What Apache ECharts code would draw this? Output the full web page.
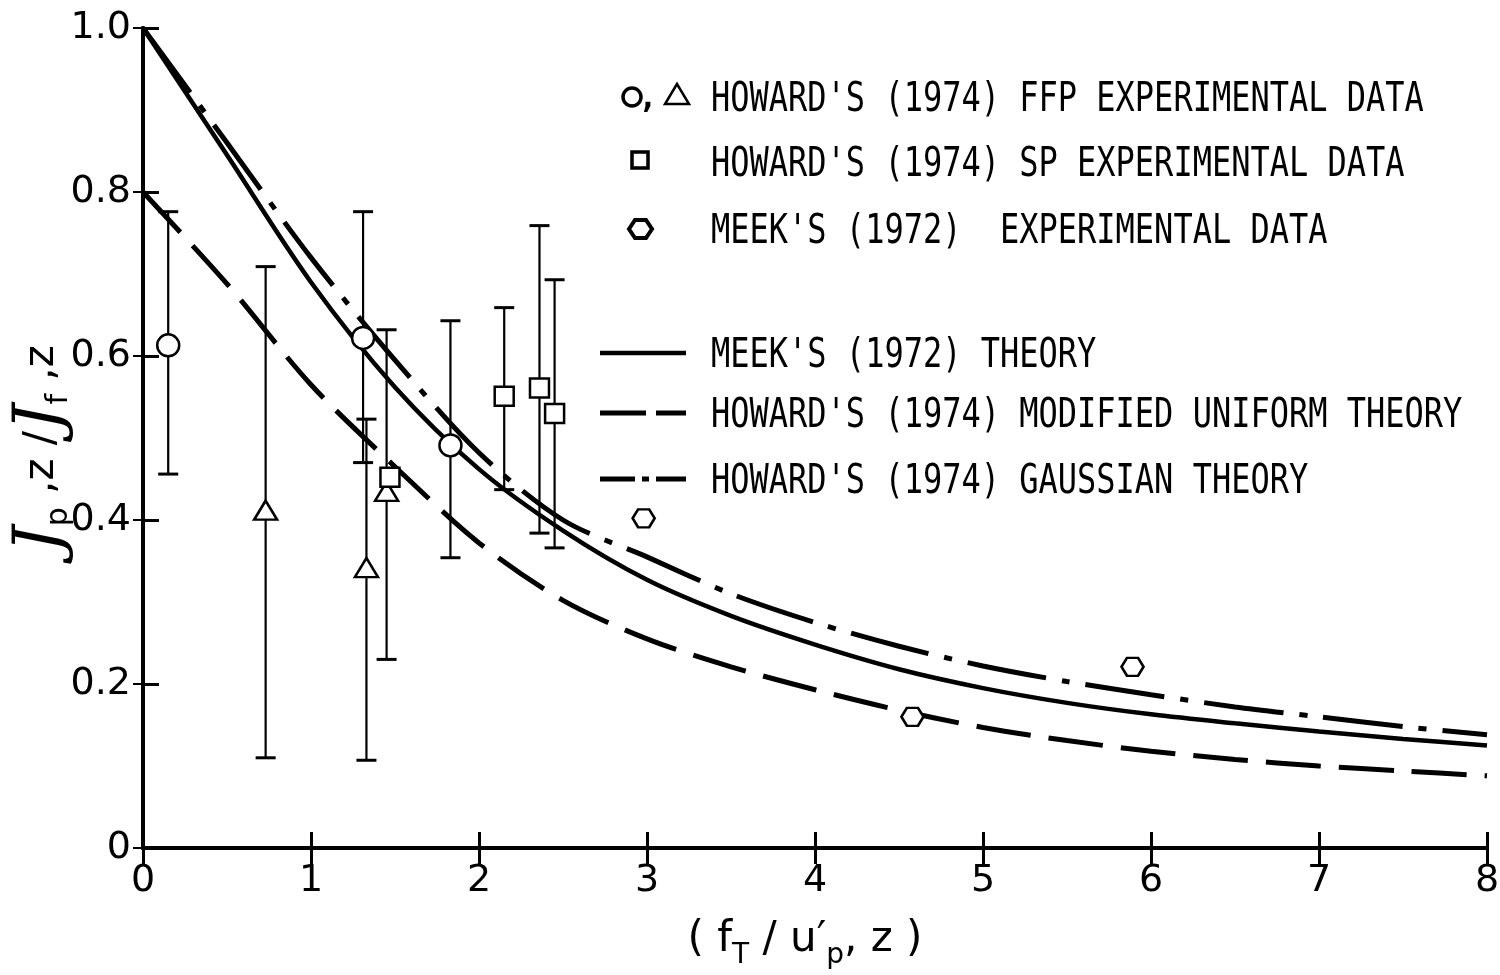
<!DOCTYPE html>
<html><head><meta charset="utf-8">
<script src="https://cdn.jsdelivr.net/npm/echarts@6/dist/echarts.min.js"></script>
<style>html,body{margin:0;padding:0;background:#fff}#c{width:1500px;height:975px}</style>
</head><body><div id="c"></div><script>
// ---- data ----
const xTickLabels = ['0','1','2','3','4','5','6','7','8'];
const yTickLabels = ['0','0.2','0.4','0.6','0.8','1.0'];

const theoryX = [0,0.5,1,1.5,2,2.5,3,3.5,4,4.5,5,5.5,6,6.5,7,7.5,8];
const meekTheoryY = [1.0,0.845,0.69,0.562,0.462,0.387,0.327,0.283,0.248,0.218,0.195,0.177,0.163,0.152,0.142,0.133,0.125];
const uniformTheoryY = [0.80,0.688,0.565,0.465,0.372,0.302,0.255,0.221,0.193,0.168,0.147,0.131,0.118,0.108,0.10,0.094,0.088];
const gaussianTheoryY = [1.0,0.86,0.72,0.595,0.482,0.40,0.355,0.31,0.275,0.246,0.222,0.203,0.187,0.172,0.16,0.148,0.138];

const ffpCircleX = [0.15,1.31,1.83];
const ffpCircleY = [0.613,0.622,0.491];
const ffpCircleLo = [0.456,0.470,0.354];
const ffpCircleHi = [0.776,0.776,0.643];

const ffpTriX = [0.73,1.33,1.45];
const ffpTriY = [0.412,0.342,0.435];
const ffpTriLo = [0.110,0.107,0.230];
const ffpTriHi = [0.709,0.523,0.632];

const spSquareX = [1.47,2.15,2.36,2.45];
const spSquareY = [0.452,0.551,0.561,0.530];
const spSquareLo = [null,0.437,0.384,0.366];
const spSquareHi = [null,0.659,0.759,0.693];

const meekDataX = [2.98,4.58,5.89];
const meekDataY = [0.402,0.160,0.221];

const legendLabels = [
  "HOWARD'S (1974) FFP EXPERIMENTAL DATA",
  "HOWARD'S (1974) SP EXPERIMENTAL DATA",
  "MEEK'S (1972)  EXPERIMENTAL DATA",
  "MEEK'S (1972) THEORY",
  "HOWARD'S (1974) MODIFIED UNIFORM THEORY",
  "HOWARD'S (1974) GAUSSIAN THEORY"
];

// ---- helpers ----
const zip = (xs, ys) => xs.map((x,i)=>[x, ys[i]]);
const errData = (xs, lo, hi) => xs.map((x,i)=>[x, lo[i], hi[i]]).filter(d=>d[1]!=null);

function renderErr(params, api){
  const x = api.value(0), lo = api.value(1), hi = api.value(2);
  const a = api.coord([x, lo]), b = api.coord([x, hi]);
  const w = 10;
  return {type:'group', children:[
    {type:'line', shape:{x1:a[0],y1:a[1],x2:b[0],y2:b[1]}, style:{stroke:'#000',lineWidth:2.2}},
    {type:'line', shape:{x1:a[0]-w,y1:a[1],x2:a[0]+w,y2:a[1]}, style:{stroke:'#000',lineWidth:3}},
    {type:'line', shape:{x1:b[0]-w,y1:b[1],x2:b[0]+w,y2:b[1]}, style:{stroke:'#000',lineWidth:3}}
  ]};
}

const hexPath = 'path://M-10,0 L-5,-8 L5,-8 L10,0 L5,8 L-5,8 Z';
const markerStyle = {color:'#fff', borderColor:'#000', borderWidth:2.5, opacity:1};
const monoFont = 'DejaVu Sans Mono';
const legendText = {fontFamily: monoFont, fontSize: 32, fill:'#000'};

const solidStyle = {color:'#000', width:4.5, type:'solid'};
const dashStyle = {color:'#000', width:5, type:[55,18]};
const dashDotStyle = {color:'#000', width:5, type:[80,16,8,16]};

const chart = echarts.init(document.getElementById('c'), null, {renderer:'canvas'});

const axisCommon = {
  type:'value',
  axisLine:{show:true, lineStyle:{color:'#000', width:4}},
  axisTick:{show:true, inside:true, length:16, lineStyle:{color:'#000', width:3}},
  splitLine:{show:false}
};

function legendTextEl(i, y){
  return {type:'text', x:711, y:y+3, scaleY:1.28, originY:0,
    style:Object.assign({text:legendLabels[i], verticalAlign:'middle'}, legendText)};
}

chart.setOption({
  animation:false,
  backgroundColor:'#fff',
  grid:{left:143, right:13, top:28, bottom:127, outerBoundsMode:'none'},
  xAxis:[
    Object.assign({}, axisCommon, {min:0, max:8, interval:1, position:'bottom',
      axisLabel:{show:true, margin:14, fontFamily:'DejaVu Sans', fontSize:38, color:'#000',
        formatter:(v)=>xTickLabels[Math.round(v)]}}),
    Object.assign({}, axisCommon, {min:0, max:8, interval:1, position:'top',
      axisLabel:{show:false}})
  ],
  yAxis:[
    Object.assign({}, axisCommon, {min:0, max:1, interval:0.2, position:'left',
      axisLabel:{show:true, margin:12, fontFamily:'DejaVu Sans', fontSize:38, color:'#000',
        formatter:(v)=>yTickLabels[Math.round(v*5)]}}),
    Object.assign({}, axisCommon, {min:0, max:1, interval:0.2, position:'right',
      axisTick:{show:true, inside:true, length:10, lineStyle:{color:'#000', width:2}},
      axisLabel:{show:false}})
  ],
  series:[
    {name:legendLabels[3], type:'line', data:zip(theoryX, meekTheoryY), smooth:0.3, symbol:'none',
     lineStyle:solidStyle, z:2},
    {name:legendLabels[4], type:'line', data:zip(theoryX, uniformTheoryY), smooth:0.3, symbol:'none',
     lineStyle:dashStyle, z:2},
    {name:legendLabels[5], type:'line', data:zip(theoryX, gaussianTheoryY), smooth:0.3, symbol:'none',
     lineStyle:dashDotStyle, z:2},
    {type:'custom', renderItem:renderErr, data:errData(ffpCircleX, ffpCircleLo, ffpCircleHi), encode:{x:0, y:[1,2]}, z:3, silent:true},
    {type:'custom', renderItem:renderErr, data:errData(ffpTriX, ffpTriLo, ffpTriHi), encode:{x:0, y:[1,2]}, z:3, silent:true},
    {type:'custom', renderItem:renderErr, data:errData(spSquareX, spSquareLo, spSquareHi), encode:{x:0, y:[1,2]}, z:3, silent:true},
    {name:'FFP circles', type:'scatter', data:zip(ffpCircleX, ffpCircleY), symbol:'circle', symbolSize:22, itemStyle:markerStyle, z:5},
    {name:'FFP triangles', type:'scatter', data:zip(ffpTriX, ffpTriY), symbol:'triangle', symbolSize:[23,19], itemStyle:markerStyle, z:5},
    {name:'SP squares', type:'scatter', data:zip(spSquareX, spSquareY), symbol:'rect', symbolSize:19, itemStyle:markerStyle, z:5},
    {name:'Meek data', type:'scatter', data:zip(meekDataX, meekDataY), symbol:hexPath, symbolSize:[22,18], itemStyle:markerStyle, z:5}
  ],
  graphic:[
    // data legend rows
    {type:'circle', shape:{cx:632, cy:97, r:9}, style:{fill:'#fff', stroke:'#000', lineWidth:3.5}},
    {type:'text', x:648, y:100, style:Object.assign({text:',', align:'center', verticalAlign:'middle'}, legendText, {fontWeight:'bold'})},
    {type:'polygon', shape:{points:[[677,84],[665,104],[689,104]]}, style:{fill:'#fff', stroke:'#000', lineWidth:2.5}},
    legendTextEl(0, 97),
    {type:'rect', shape:{x:632, y:152, width:16, height:16}, style:{fill:'#fff', stroke:'#000', lineWidth:3.5}},
    legendTextEl(1, 162),
    {type:'polygon', shape:{points:[[629,229],[635,220],[646,220],[652,229],[646,238],[635,238]]}, style:{fill:'#fff', stroke:'#000', lineWidth:4}},
    legendTextEl(2, 229),
    // line legend rows
    {type:'line', shape:{x1:600, y1:353, x2:686, y2:353}, style:{stroke:'#000', lineWidth:4.5}},
    legendTextEl(3, 353),
    {type:'line', shape:{x1:600, y1:413, x2:646, y2:413}, style:{stroke:'#000', lineWidth:5}},
    {type:'line', shape:{x1:656, y1:413, x2:686, y2:413}, style:{stroke:'#000', lineWidth:5}},
    legendTextEl(4, 413),
    {type:'line', shape:{x1:600, y1:479, x2:635, y2:479}, style:{stroke:'#000', lineWidth:5}},
    {type:'line', shape:{x1:642, y1:479, x2:649, y2:479}, style:{stroke:'#000', lineWidth:5}},
    {type:'line', shape:{x1:656, y1:479, x2:686, y2:479}, style:{stroke:'#000', lineWidth:5}},
    legendTextEl(5, 479),
    // axis titles
    {type:'text', x:805, y:940, style:{
      text:'{n|( f}{s|T}{n| / u\u2032}{s|p}{n|, z )}', align:'center', verticalAlign:'middle',
      rich:{
        n:{fontFamily:'DejaVu Sans', fontSize:42, lineHeight:60, fill:'#000'},
        s:{fontFamily:'DejaVu Sans', fontSize:28, lineHeight:28, verticalAlign:'bottom', fill:'#000'}
      }}},
    {type:'text', x:42, y:449, rotation:Math.PI/2, style:{
      text:'{J|J}{s|p}{n| ,z /}{J|J}{s|f}{n| ,z}', align:'center', verticalAlign:'middle',
      rich:{
        J:{fontFamily:'DejaVu Serif', fontStyle:'italic', fontSize:66, lineHeight:64, fill:'#000'},
        n:{fontFamily:'DejaVu Sans', fontSize:42, lineHeight:64, fill:'#000'},
        s:{fontFamily:'DejaVu Sans', fontSize:30, lineHeight:30, verticalAlign:'bottom', fill:'#000'}
      }}}
  ]
});
</script></body></html>
